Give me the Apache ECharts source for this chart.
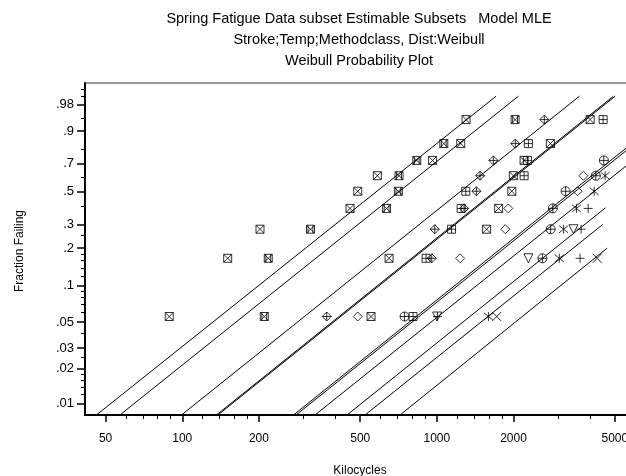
<!DOCTYPE html>
<html><head><meta charset="utf-8">
<script src="https://cdn.jsdelivr.net/npm/echarts@6/dist/echarts.min.js"></script>
<style>html,body{margin:0;padding:0;background:#fff}#c{width:626px;height:476px}</style>
</head><body><div id="c"></div>
<script>
// ---------- data ----------
const titleLines = [
  'Spring Fatigue Data subset Estimable Subsets   Model MLE',
  'Stroke;Temp;Methodclass, Dist:Weibull',
  'Weibull Probability Plot'
];
const xAxisTitle = 'Kilocycles';
const yAxisTitle = 'Fraction Failing';
const xTickLabels = [50, 100, 200, 500, 1000, 2000, 5000];
const xMinorTicks = [60, 70, 80, 90, 120, 140, 160, 180, 300, 400, 600, 700, 800, 900, 1200, 1400, 1600, 1800, 3000, 4000];
const yTickLabels = [.01, .02, .03, .05, .1, .2, .3, .5, .7, .9, .98];
const yMinorTicks = [.012, .014, .016, .018, .025, .04, .06, .07, .08, .09, .12, .14, .16, .18, .25, .4, .6, .8, .95, .99, .995];
const xRange = [41.5, 6000];
const yRange = [0.008, 0.9975];
// plotting positions (k-0.5)/9
const plotPositions = [0.05556, 0.16667, 0.27778, 0.38889, 0.5, 0.61111, 0.72222, 0.83333, 0.94444];

// failure times (kilocycles) per subset, in rank order
const boxX1   = [88.9, 150.8, 202.0, 456.0, 489.0, 583.9, 961.8, 1241, 1302];
const boxX2   = [551.3, 649.1, 1568, 1748, 1970, 1998, 2201, 2792, 3999];
const hourBox = [210.0, 217.7, 318.9, 634.6, 706.0, 710.4, 833.7, 1065, 2029];
const diamPlus = [369.3, 954.9, 981.1, 1279, 1430, 1478, 1667, 2033, 2642];
const boxPlus = [806.3, 907.0, 1142, 1245, 1299, 2201, 2268, 2288, 4498];
const diamond = [489.0, 1234, 1857, 1908, 3571, 3763];
const circPlus = [746.7, 2597, 2798, 2854, 3204, 4211, 4527];
const asterisk = [1594, 3026, 3146, 3533, 4146, 4580];
const plus = [1005, 3652, 3685, 3928];
const triDown = [1002, 2288, 3438];
const cross = [1719, 4261];

// fitted lines: start at bottom edge, end point
const fitStartKc = [46.0, 56.9, 99.3, 136.2, 138.1, 273.5, 279.8, 332.3, 443.8, 522.4, 716.8];
const fitEndKc   = [1708, 2090, 3630, 4937, 5014, 9936, 10247, 12170, 4594, 4482, 4665];
const fitEndFrac = [.99, .99, .99, .99, .99, .99, .99, .99, .3926, .3007, .2000];

// ---------- transforms ----------
const tx = v => Math.log10(v);
const ty = p => Math.log(-Math.log(1 - p));

const symbols = {
  boxX: 'path://M0,0L10,0L10,10L0,10Z M0,0L10,10 M10,0L0,10',
  hourBox: 'path://M0,0L10,0L10,10L0,10Z M0,0L10,10 M10,0L0,10 M2,0L2,10 M8,0L8,10',
  diamPlus: 'path://M5,0L10,5L5,10L0,5Z M5,0L5,10 M0,5L10,5',
  boxPlus: 'path://M0,0L10,0L10,10L0,10Z M5,0L5,10 M0,5L10,5',
  diamond: 'path://M5,0L10,5L5,10L0,5Z',
  circPlus: 'path://M0,5A5,5,0,1,1,10,5A5,5,0,1,1,0,5Z M5,0L5,10 M0,5L10,5',
  asterisk: 'path://M5,0L5,10 M0,1L10,9 M10,1L0,9',
  plus: 'path://M5,0L5,10 M0,5L10,5',
  triDown: 'path://M0,0L10,0L5,10Z',
  cross: 'path://M0,0L10,10 M10,0L0,10'
};
const groups = [
  [boxX1, 'boxX', 8], [boxX2, 'boxX', 8], [hourBox, 'hourBox', 8], [diamPlus, 'diamPlus', 9],
  [boxPlus, 'boxPlus', 8], [diamond, 'diamond', 9], [circPlus, 'circPlus', 9],
  [asterisk, 'asterisk', 9], [plus, 'plus', 9], [triDown, 'triDown', 9], [cross, 'cross', 9]
];

const series = [];
fitStartKc.forEach((s, i) => {
  series.push({
    type: 'line', xAxisIndex: 0, yAxisIndex: 0, symbol: 'none', silent: true,
    lineStyle: { color: '#000', width: 1 }, clip: true,
    data: [[tx(s), ty(yRange[0])], [tx(fitEndKc[i]), ty(fitEndFrac[i])]]
  });
});
groups.forEach(([vals, sym, size]) => {
  series.push({
    type: 'scatter', xAxisIndex: 0, yAxisIndex: 0, symbol: symbols[sym], symbolSize: size,
    symbolKeepAspect: false, silent: true,
    itemStyle: { color: 'transparent', borderColor: '#000', borderWidth: 1 },
    data: vals.map((v, i) => [tx(v), ty(plotPositions[i])])
  });
});

const nearest = (arr, f, v) => arr.reduce((a, b) => Math.abs(f(b) - v) < Math.abs(f(a) - v) ? b : a);
const font = '"Liberation Sans", Arial, sans-serif';

const option = {
  animation: false,
  backgroundColor: '#fff',
  grid: { left: 85, top: 83, right: -9, bottom: 61, show: true, borderColor: '#333', borderWidth: 1,
          containLabel: false, outerBoundsMode: 'none' },
  xAxis: [
    { type: 'value', min: tx(xRange[0]), max: tx(xRange[1]), position: 'bottom',
      axisLine: { show: true, onZero: false, lineStyle: { color: '#000', width: 2 } },
      axisTick: { show: true, inside: false, length: 7, customValues: xTickLabels.map(tx), lineStyle: { color: '#000', width: 1.5 } },
      axisLabel: { show: true, margin: 18, customValues: xTickLabels.map(tx), color: '#000', fontSize: 12, fontFamily: font,
        formatter: v => String(nearest(xTickLabels, tx, v)) },
      splitLine: { show: false } },
    { type: 'value', min: tx(xRange[0]), max: tx(xRange[1]), position: 'bottom', gridIndex: 0,
      axisLine: { show: false, onZero: false },
      axisTick: { show: true, inside: false, length: 4, customValues: xMinorTicks.map(tx), lineStyle: { color: '#000', width: 1 } },
      axisLabel: { show: false }, splitLine: { show: false } }
  ],
  yAxis: [
    { type: 'value', min: ty(yRange[0]), max: ty(yRange[1]), position: 'left',
      axisLine: { show: true, onZero: false, lineStyle: { color: '#000', width: 2 } },
      axisTick: { show: true, inside: false, length: 8, customValues: yTickLabels.map(ty), lineStyle: { color: '#000', width: 1.5 } },
      axisLabel: { show: true, margin: 11, customValues: yTickLabels.map(ty), color: '#000', fontSize: 13, fontFamily: font,
        formatter: v => String(nearest(yTickLabels, ty, v)).replace(/^0/, '') },
      splitLine: { show: false } },
    { type: 'value', min: ty(yRange[0]), max: ty(yRange[1]), position: 'left', gridIndex: 0,
      axisLine: { show: false, onZero: false },
      axisTick: { show: true, inside: false, length: 4, customValues: yMinorTicks.map(ty), lineStyle: { color: '#000', width: 1 } },
      axisLabel: { show: false }, splitLine: { show: false } }
  ],
  graphic: { elements: [
    ...titleLines.map((t, i) => ({ type: 'text', x: 359, y: 19 + i * 21, silent: true,
      style: { text: t, font: '14.5px ' + font, fill: '#000', align: 'center', verticalAlign: 'middle', textAlign: 'center', textVerticalAlign: 'middle' } })),
    { type: 'text', x: 360, y: 471, silent: true,
      style: { text: xAxisTitle, font: '12px ' + font, fill: '#000', align: 'center', verticalAlign: 'middle', textAlign: 'center', textVerticalAlign: 'middle' } },
    { type: 'text', x: 20, y: 251, rotation: Math.PI / 2, silent: true,
      style: { text: yAxisTitle, font: '12px ' + font, fill: '#000', align: 'center', verticalAlign: 'middle', textAlign: 'center', textVerticalAlign: 'middle' } }
  ] },
  series: series
};
const chart = echarts.init(document.getElementById('c'), null, { renderer: 'canvas', width: 626, height: 476 });
chart.setOption(option);
</script>
</body></html>
